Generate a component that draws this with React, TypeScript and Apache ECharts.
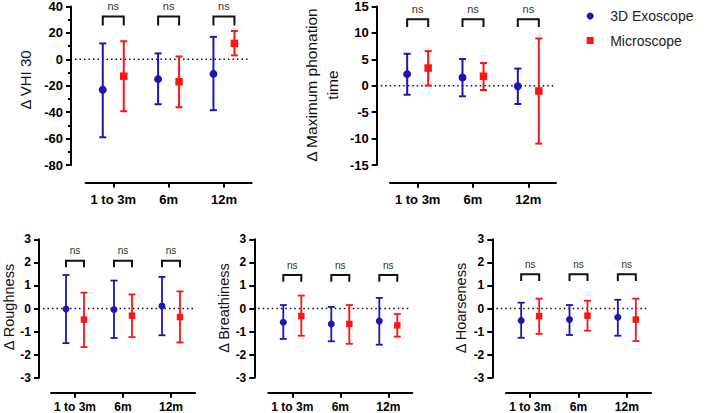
import React, { useEffect, useRef } from "react";
import * as echarts from "echarts";

const categories = ["1 to 3m", "6m", "12m"];
const groupNames = ["3D Exoscope", "Microscope"];

// Δ VHI 30
const vhiExoMean = [-23, -15, -11];
const vhiExoLow = [-59, -34, -38.5];
const vhiExoHigh = [12, 4.5, 17];
const vhiMicMean = [-12.75, -17, 12];
const vhiMicLow = [-39.3, -36.3, 3];
const vhiMicHigh = [13.7, 2.2, 21.5];
const vhiBracket = [32.5, 25.7];

// Δ Maximum phonation time
const mptExoMean = [2.2, 1.55, -0.1];
const mptExoLow = [-1.7, -2.0, -3.45];
const mptExoHigh = [6.05, 5.05, 3.25];
const mptMicMean = [3.35, 1.8, -1.0];
const mptMicLow = [0.05, -0.8, -10.95];
const mptMicHigh = [6.55, 4.3, 8.95];
const mptBracket = [12.6, 11.1];

// Δ Roughness
const rouExoMean = [-0.02, -0.04, 0.11];
const rouExoLow = [-1.5, -1.28, -1.16];
const rouExoHigh = [1.45, 1.21, 1.37];
const rouMicMean = [-0.48, -0.31, -0.37];
const rouMicLow = [-1.67, -1.24, -1.47];
const rouMicHigh = [0.69, 0.61, 0.74];
const rouBracket = [2.07, 1.79];

// Δ Breathiness
const breExoMean = [-0.6, -0.67, -0.54];
const breExoLow = [-1.32, -1.42, -1.57];
const breExoHigh = [0.15, 0.07, 0.46];
const breMicMean = [-0.33, -0.67, -0.73];
const breMicLow = [-1.18, -1.53, -1.22];
const breMicHigh = [0.56, 0.15, -0.24];
const breBracket = [1.45, 1.16];

// Δ Hoarseness
const hoaExoMean = [-0.52, -0.48, -0.38];
const hoaExoLow = [-1.27, -1.15, -1.18];
const hoaExoHigh = [0.25, 0.15, 0.38];
const hoaMicMean = [-0.33, -0.31, -0.48];
const hoaMicLow = [-1.1, -0.96, -1.41];
const hoaMicHigh = [0.43, 0.34, 0.43];
const hoaBracket = [1.48, 1.19];

const BLUE = "#1818B4";
const RED = "#FF1414";
const FONT = "Liberation Sans";

const panels = [
  {
    title: "Δ VHI 30", titleX: 25, titleY: 80, min: -80, max: 40, interval: 20, minor: true,
    left: 85.6, top: 5, width: 166, height: 160, yOff: 14.6, xOff: 17.5,
    tickFont: 13, titleFont: 15, labelMargin: 10, dx: 10.5,
    r: 4, sq: 7.5, cap: 7, lw: 2, nsFont: 11,
    exo: [vhiExoMean, vhiExoLow, vhiExoHigh], mic: [vhiMicMean, vhiMicLow, vhiMicHigh], br: vhiBracket,
  },
  {
    title: "Δ Maximum phonation\ntime", titleX: 322.3, titleY: 85, min: -15, max: 15, interval: 5, minor: false,
    left: 390, top: 5, width: 166, height: 160, yOff: 13.3, xOff: 17.7,
    tickFont: 13, titleFont: 15.5, labelMargin: 10, dx: 10.5,
    r: 4, sq: 7.5, cap: 7, lw: 2, nsFont: 11,
    exo: [mptExoMean, mptExoLow, mptExoHigh], mic: [mptMicMean, mptMicLow, mptMicHigh], br: mptBracket,
  },
  {
    title: "Δ Roughness", titleX: 9, titleY: 307, min: -3, max: 3, interval: 1, minor: false,
    left: 51, top: 239.3, width: 144, height: 138.4, yOff: 12, xOff: 15,
    tickFont: 12, titleFont: 14.5, labelMargin: 8, dx: 9,
    r: 3.5, sq: 6.5, cap: 7, lw: 1.8, nsFont: 10,
    exo: [rouExoMean, rouExoLow, rouExoHigh], mic: [rouMicMean, rouMicLow, rouMicHigh], br: rouBracket,
  },
  {
    title: "Δ Breathiness", titleX: 224, titleY: 308, min: -3, max: 3, interval: 1, minor: false,
    left: 268.3, top: 239.3, width: 144, height: 138.4, yOff: 14, xOff: 15,
    tickFont: 12, titleFont: 14.5, labelMargin: 8, dx: 9,
    r: 3.5, sq: 6.5, cap: 7, lw: 1.8, nsFont: 10,
    exo: [breExoMean, breExoLow, breExoHigh], mic: [breMicMean, breMicLow, breMicHigh], br: breBracket,
  },
  {
    title: "Δ Hoarseness", titleX: 460.5, titleY: 308, min: -3, max: 3, interval: 1, minor: false,
    left: 506, top: 239.3, width: 145, height: 138.4, yOff: 13.7, xOff: 15,
    tickFont: 12, titleFont: 14.5, labelMargin: 8, dx: 9,
    r: 3.5, sq: 6.5, cap: 7, lw: 1.8, nsFont: 10,
    exo: [hoaExoMean, hoaExoLow, hoaExoHigh], mic: [hoaMicMean, hoaMicLow, hoaMicHigh], br: hoaBracket,
  },
];

function errorRender(dx: number, kind: string, color: string, r: number, sq: number, cap: number, lw: number) {
  return (params: any, api: any) => {
    const i = api.value(0);
    const m = api.coord([i, api.value(1)]);
    const lo = api.coord([i, api.value(2)]);
    const hi = api.coord([i, api.value(3)]);
    const x = m[0] + dx;
    const ls = { stroke: color, lineWidth: lw };
    const marker =
      kind === "circle"
        ? { type: "circle", shape: { cx: x, cy: m[1], r }, style: { fill: color } }
        : { type: "rect", shape: { x: x - sq / 2, y: m[1] - sq / 2, width: sq, height: sq }, style: { fill: color } };
    return {
      type: "group",
      children: [
        { type: "line", shape: { x1: x, y1: lo[1], x2: x, y2: hi[1] }, style: ls },
        { type: "line", shape: { x1: x - cap / 2, y1: hi[1], x2: x + cap / 2, y2: hi[1] }, style: ls },
        { type: "line", shape: { x1: x - cap / 2, y1: lo[1], x2: x + cap / 2, y2: lo[1] }, style: ls },
        marker,
      ],
    };
  };
}

function bracketRender(dx: number, nsFont: number) {
  return (params: any, api: any) => {
    const i = api.value(0);
    const t = api.coord([i, api.value(1)]);
    const l = api.coord([i, api.value(2)]);
    return {
      type: "group",
      children: [
        {
          type: "polyline",
          shape: { points: [[t[0] - dx, l[1]], [t[0] - dx, t[1]], [t[0] + dx, t[1]], [t[0] + dx, l[1]]] },
          style: { stroke: "#111", lineWidth: 2, fill: "none" },
        },
        {
          type: "text",
          style: {
            x: t[0], y: t[1] - 10, text: "ns", fill: "#333", fontSize: nsFont, fontFamily: FONT,
            textAlign: "center", textVerticalAlign: "middle",
          },
        },
      ],
    };
  };
}

function zeroRender(yOff: number) {
  return (params: any, api: any) => {
    const cs = params.coordSys;
    const p = api.coord([0, 0]);
    return {
      type: "line",
      shape: { x1: cs.x - yOff + 4, y1: p[1], x2: cs.x + cs.width - 2, y2: p[1] },
      style: { stroke: "#111", lineWidth: 1.5, lineDash: [1.5, 3] },
    };
  };
}

export default function App() {
  const ref = useRef<HTMLDivElement>(null);
  useEffect(() => {
    document.body.style.margin = "0";
    const chart = echarts.init(ref.current!, null, { renderer: "svg" });
    const grid: any[] = [];
    const xAxis: any[] = [];
    const yAxis: any[] = [];
    const series: any[] = [];
    const graphic: any[] = [];
    panels.forEach((p, gi) => {
      grid.push({ left: p.left, top: p.top, width: p.width, height: p.height });
      xAxis.push({
        type: "category", gridIndex: gi, data: categories, boundaryGap: true, offset: p.xOff,
        axisLine: { show: true, onZero: false, lineStyle: { color: "#000", width: 2 } },
        axisTick: { show: true, alignWithLabel: true, length: 5, lineStyle: { color: "#000", width: 2 } },
        axisLabel: { interval: 0, color: "#000", fontWeight: "bold", fontSize: p.tickFont, fontFamily: FONT, margin: p.labelMargin },
        splitLine: { show: false },
      });
      yAxis.push({
        type: "value", gridIndex: gi, min: p.min, max: p.max, interval: p.interval, offset: p.yOff,
        axisLine: { show: true, onZero: false, lineStyle: { color: "#000", width: 2 } },
        axisTick: { show: true, length: 5, lineStyle: { color: "#000", width: 2 } },
        minorTick: { show: p.minor, splitNumber: 2, length: 3, lineStyle: { color: "#000", width: 2 } },
        axisLabel: { color: "#000", fontWeight: "bold", fontSize: p.tickFont, fontFamily: FONT, margin: 8 },
        splitLine: { show: false },
      });
      graphic.push({
        type: "text", x: p.titleX, y: p.titleY, rotation: Math.PI / 2, silent: true,
        style: {
          text: p.title, fill: "#111", fontSize: p.titleFont, fontFamily: FONT, lineHeight: 21,
          textAlign: "center", textVerticalAlign: "middle",
        },
      });
      series.push({
        type: "custom", xAxisIndex: gi, yAxisIndex: gi, clip: false, silent: true,
        renderItem: zeroRender(p.yOff), data: [[0, 0]], encode: { x: 0, y: 1 }, z: 1,
      });
      series.push({
        type: "custom", xAxisIndex: gi, yAxisIndex: gi, clip: false, silent: true,
        renderItem: bracketRender(p.dx, p.nsFont),
        data: categories.map((_, i) => [i, p.br[0], p.br[1]]), encode: { x: 0, y: [1, 2] }, z: 2,
      });
      [p.exo, p.mic].forEach((g, k) => {
        series.push({
          type: "custom", name: groupNames[k], xAxisIndex: gi, yAxisIndex: gi, clip: false,
          itemStyle: { color: k === 0 ? BLUE : RED },
          renderItem: errorRender(k === 0 ? -p.dx : p.dx, k === 0 ? "circle" : "rect", k === 0 ? BLUE : RED, p.r, p.sq, p.cap, p.lw),
          data: categories.map((_, i) => [i, g[0][i], g[1][i], g[2][i]]),
          encode: { x: 0, y: [1, 2, 3] }, z: 3,
        });
      });
    });
    chart.setOption({
      animation: false,
      backgroundColor: "#fff",
      legend: {
        orient: "vertical", left: 586.7, top: 8, itemWidth: 30, itemHeight: 7, itemGap: 8.5,
        padding: 0, selectedMode: false, symbolKeepAspect: true,
        textStyle: { fontSize: 14, color: "#222", fontFamily: FONT, lineHeight: 16 },
        data: [
          { name: groupNames[0], icon: "circle", itemStyle: { color: BLUE } },
          { name: groupNames[1], icon: "path://M0,0L10,0L10,10L0,10Z", itemStyle: { color: RED } },
        ],
      },
      graphic, grid, xAxis, yAxis, series,
    });
    return () => chart.dispose();
  }, []);
  return <div ref={ref} style={{ width: 708, height: 413 }} />;
}
